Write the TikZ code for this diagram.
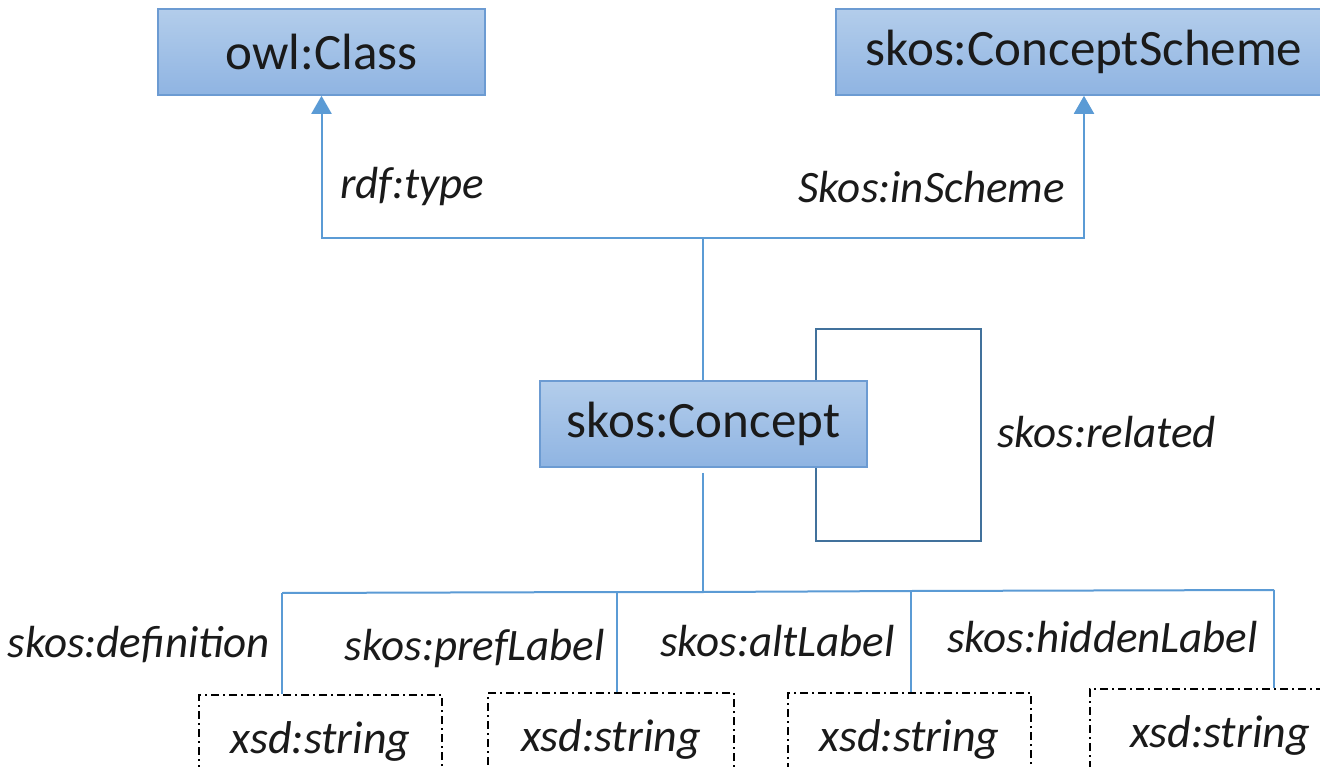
\documentclass[tikz,border=0pt]{standalone}
\usepackage{fontspec}
\setmainfont{Carlito}
\usetikzlibrary{arrows.meta,calc}
\definecolor{boxline}{HTML}{6C9BD2}
\definecolor{boxtop}{HTML}{B3CDEB}
\definecolor{boxbot}{HTML}{8FB4E2}
\definecolor{connc}{HTML}{5B9BD5}
\definecolor{loopc}{HTML}{41719C}
\definecolor{ink}{HTML}{1A1A1A}
\begin{document}
\begin{tikzpicture}[x=1pt,y=1pt,
  cls/.style={draw=boxline, line width=1.6pt, top color=boxtop, bottom color=boxbot, inner sep=0pt, minimum height=86pt, font=\fontsize{51}{58}\selectfont, text=ink},
  lit/.style={draw=black, line width=1.2pt, dash pattern=on 8pt off 4pt on 2pt off 4pt, minimum height=92pt, inner sep=0pt, font=\fontsize{46}{52}\selectfont\itshape, text=ink},
  conn/.style={draw=connc, line width=2pt},
  arr/.style={conn, -{Triangle[width=20pt,length=18pt]}},
  loopline/.style={draw=loopc, line width=2pt},
  lbl/.style={font=\fontsize{45}{52}\selectfont\itshape, text=ink, inner sep=0pt}]
\useasboundingbox (0,0) rectangle (1320,-767);
\clip (0,0) rectangle (1320,-767);
\fill[white] (0,0) rectangle (1320,-767);

% self loop (drawn first, box covers it)
\coordinate (lpA) at (816,-381);
\coordinate (lpB) at (816,-467);
\draw[loopline] (lpA) -- (816,-329) -- (981,-329) -- (981,-541) -- (816,-541) -- (lpB);

% class boxes
\node[cls, minimum width=327pt] (owl) at (321.5,-52) {owl:Class};
\node[cls, minimum width=496pt] (cs) at (1084,-52) {skos:ConceptScheme};
\node[cls, minimum width=327pt] (concept) at (703.5,-424) {skos:Concept};

% upper connectors
\coordinate (j) at (703,-238);
\draw[conn] (concept.north -| j) -- (j);
\draw[arr] (j) -| (owl.south);
\draw[arr] (j) -| (cs.south);
\node[lbl, anchor=west] (ltype) at (340,-187) {rdf:type};
\node[lbl, anchor=east] (lscheme) at (1065,-187) {Skos:inScheme};
\node[lbl, anchor=west] (lrel) at (997,-432) {skos:related};

% literal boxes
\node[lit, minimum width=243pt] (x1) at (320.5,-741) {xsd:string};
\node[lit, minimum width=246pt] (x2) at (611,-739) {xsd:string};
\node[lit, minimum width=243pt] (x3) at (909.5,-739) {xsd:string};
\node[lit, minimum width=260pt] (x4) at (1220,-735) {xsd:string};

% lower connectors
\coordinate (b) at (703,-592);
\coordinate (t1) at (282,-593);
\coordinate (t2) at (617,-592);
\coordinate (t3) at (911,-591);
\coordinate (t4) at (1274,-590);
\draw[conn] ([yshift=-5pt]concept.south -| b) -- (b);
\draw[conn] (t1) -- (t2) -- (b) -- (t3) -- (t4);
\draw[conn] (t1) -- (t1 |- x1.north);
\draw[conn] (t2) -- (t2 |- x2.north);
\draw[conn] (t3) -- (t3 |- x3.north);
\draw[conn] (t4) -- (t4 |- x4.north);

\node[lbl, anchor=east] (ldef) at (270,-645) {skos:definition};
\node[lbl, anchor=east] (lpref) at (605,-648) {skos:prefLabel};
\node[lbl, anchor=east] (lalt) at (895,-641) {skos:altLabel};
\node[lbl, anchor=east] (lhid) at (1258,-637) {skos:hiddenLabel};
\end{tikzpicture}
\end{document}
